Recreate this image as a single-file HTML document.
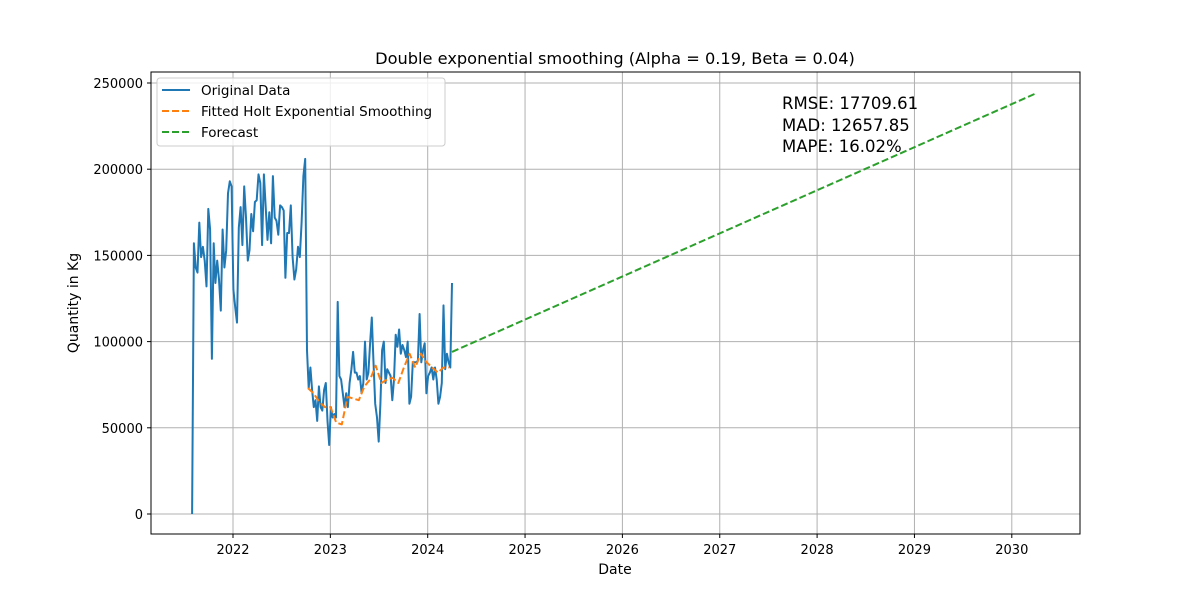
<!DOCTYPE html>
<html><head><meta charset="utf-8"><style>
body{margin:0;background:#fff;font-family:"DejaVu Sans","Liberation Sans",sans-serif}
svg text{font-family:"DejaVu Sans","Liberation Sans",sans-serif}
</style></head><body>
<svg id="chart" width="1200" height="600" xmlns="http://www.w3.org/2000/svg">
<rect width="1200" height="600" fill="#fff"/>
<g id="grid"></g>
<g id="series"></g>
<rect x="151" y="72" width="929" height="462" fill="none" stroke="#000" stroke-width="1"/>
<g id="ticks"></g>
<text x="615" y="64" text-anchor="middle" font-size="16.2">Double exponential smoothing (Alpha = 0.19, Beta = 0.04)</text>
<text x="615" y="574" text-anchor="middle" font-size="14">Date</text>
<text transform="translate(78,303) rotate(-90)" text-anchor="middle" font-size="14">Quantity in Kg</text>
<g font-size="16.5">
<text x="782" y="109">RMSE: 17709.61</text>
<text x="782" y="131">MAD: 12657.85</text>
<text x="782" y="152">MAPE: 16.02%</text>
</g>
<g>
<rect x="157" y="78" width="288" height="68" rx="3" fill="#fff" fill-opacity="0.8" stroke="#ccc"/>
<g><line x1="162" y1="90" x2="190" y2="90" stroke="#1f77b4" stroke-width="2"/><text x="201" y="95" font-size="13.5">Original Data</text></g>
<g><line x1="162" y1="111" x2="190" y2="111" stroke="#ff7f0e" stroke-width="2" stroke-dasharray="7,3"/><text x="201" y="116" font-size="13.5">Fitted Holt Exponential Smoothing</text></g>
<g><line x1="162" y1="132" x2="190" y2="132" stroke="#2ca02c" stroke-width="2" stroke-dasharray="7,3"/><text x="201" y="137" font-size="13.5">Forecast</text></g>
</g>
</svg>
<script>
const xTicks=[2022,2023,2024,2025,2026,2027,2028,2029,2030];
const yTicks=[0,50000,100000,150000,200000,250000];
const origStart=2021.58, origBreak=2022.76, origEnd=2024.25;
const origBreakIndex=64;
const origValues=[0,157,143,140,169,149,155,147,132,177,165,90,157,134,147,136,118,165,143,153,186,193,190,130,120,111,166,178,156,190,172,147,153,174,164,181,182,197,192,156,197,178,159,175,157,196,172,170,162,179,178,176,137,163,163,179,149,136,142,155,149,169,196,206,95,73,85,72,62,66,54,74,62,60,72,76,54,40,62,56,58,56,123,80,78,70,62,70,62,76,84,94,82,82,78,80,70,76,100,78,82,99,114,88,64,56,42,64,95,100,76,84,82,80,66,78,104,97,107,93,98,95,91,100,64,68,88,88,88,89,116,88,95,99,70,80,82,85,78,85,78,64,68,76,121,84,93,88,85,134];
const fitStart=2022.77, fitEnd=2024.22;
const fitValues=[73,70,65,62,62,53,52,68,67,66,74,78,86,76,78,79,76,85,93,85,93,88,85,82,85,85];
const fcDates=[2024.25,2030.25];
const fcValues=[94,244];
const X=y=>233+(y-2022)*97.35;
const Y=v=>514-v/250000*431;
const NS='http://www.w3.org/2000/svg';
const g=document.getElementById('grid'),t=document.getElementById('ticks'),s=document.getElementById('series');
function mk(tag,attrs,parent){const e=document.createElementNS(NS,tag);for(const k in attrs)e.setAttribute(k,attrs[k]);parent.appendChild(e);return e;}
xTicks.forEach(v=>{const x=X(v);
const l=mk('line',{x1:x,x2:x,y1:72,y2:534,stroke:'#b0b0b0','stroke-width':1},g);


mk('line',{x1:x,x2:x,y1:534,y2:538,stroke:'#000'},t);
const tx=mk('text',{x:x,y:554,'text-anchor':'middle','font-size':13},t);tx.textContent=v;

});
yTicks.forEach(v=>{const y=Y(v);
const l=mk('line',{x1:151,x2:1080,y1:y,y2:y,stroke:'#b0b0b0','stroke-width':1},g);


mk('line',{x1:147,x2:151,y1:y,y2:y,stroke:'#000'},t);
const tx=mk('text',{x:143,y:y+5,'text-anchor':'end','font-size':13},t);tx.textContent=v;

});
function path(dates,vals,color,dash,name){
const d=vals.map((v,i)=>(i?'L':'M')+X(dates[i]).toFixed(1)+','+Y(v*1000).toFixed(1)).join('');
const p=mk('path',{d:d,fill:'none',stroke:color,'stroke-width':2,'stroke-linejoin':'round'},s);
if(dash)p.setAttribute('stroke-dasharray',dash);

}
const n=origValues.length;
const od=origValues.map((v,i)=>i<=origBreakIndex?origStart+(origBreak-origStart)*i/origBreakIndex:origBreak+(origEnd-origBreak)*(i-origBreakIndex)/(n-1-origBreakIndex));
const fd=fitValues.map((v,i)=>fitStart+(fitEnd-fitStart)*i/(fitValues.length-1));
path(od,origValues,'#1f77b4',null,'original-data-line');
path(fd,fitValues,'#ff7f0e','7,3','fitted-line');
path(fcDates,fcValues,'#2ca02c','7,3','forecast-line');
</script>
</body></html>
